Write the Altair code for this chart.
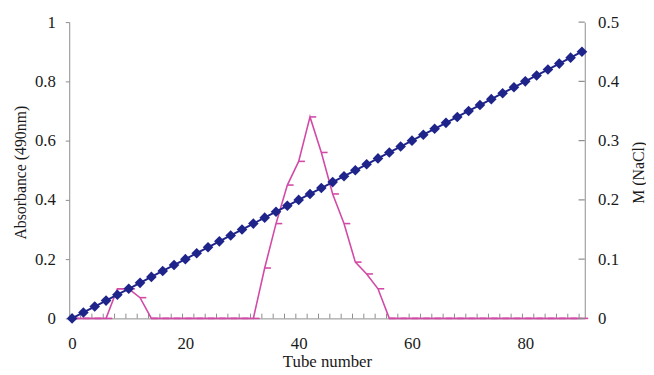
import altair as alt
import pandas as pd

# Tube numbers (every 2nd tube)
tubes = [0, 2, 4, 6, 8, 10, 12, 14, 16, 18, 20, 22, 24, 26, 28, 30, 32, 34, 36, 38,
         40, 42, 44, 46, 48, 50, 52, 54, 56, 58, 60, 62, 64, 66, 68, 70, 72, 74, 76, 78,
         80, 82, 84, 86, 88, 90]
# Absorbance at 490 nm (left axis)
absorbance = [0, 0, 0, 0, 0.10, 0.10, 0.07, 0, 0, 0, 0, 0, 0, 0, 0, 0, 0, 0.17, 0.32, 0.45,
              0.53, 0.68, 0.56, 0.42, 0.32, 0.19, 0.15, 0.10, 0, 0, 0, 0, 0, 0, 0, 0, 0, 0, 0, 0,
              0, 0, 0, 0, 0, 0]
# NaCl molarity gradient (right axis)
nacl = [0.00, 0.01, 0.02, 0.03, 0.04, 0.05, 0.06, 0.07, 0.08, 0.09, 0.10, 0.11, 0.12, 0.13,
        0.14, 0.15, 0.16, 0.17, 0.18, 0.19, 0.20, 0.21, 0.22, 0.23, 0.24, 0.25, 0.26, 0.27,
        0.28, 0.29, 0.30, 0.31, 0.32, 0.33, 0.34, 0.35, 0.36, 0.37, 0.38, 0.39, 0.40, 0.41,
        0.42, 0.43, 0.44, 0.45]
# x-axis tick marks (category boundaries) and label values
x_tick_marks = [1.5 + 2 * i for i in range(45)]
x_label_values = [0, 20, 40, 60, 80]
left_ticks = [0, 0.2, 0.4, 0.6, 0.8, 1]
right_ticks = [0, 0.1, 0.2, 0.3, 0.4, 0.5]

df = pd.DataFrame({"tube": tubes, "abs": absorbance, "nacl": nacl})
xt = pd.DataFrame({"t": x_tick_marks, "y0": [0] * len(x_tick_marks),
                   "y1": [0.016] * len(x_tick_marks)})
rt = pd.DataFrame({"v": right_ticks, "x0": [90.5] * len(right_ticks),
                   "x1": [89.4] * len(right_ticks)})

FONT = "Liberation Serif"
AXIS_COLOR = "#8c8c8c"
PINK = "#d24aa6"
BLUE = "#1f248a"
TXT = "#1a1a1a"

xscale = alt.Scale(domain=[-0.5, 90.5], nice=False, zero=False)
xaxis = alt.Axis(values=x_label_values, title="Tube number", tickSize=0, grid=False,
                 labelFont=FONT, labelFontSize=17, labelColor=TXT, labelPadding=17,
                 titleFont=FONT, titleFontSize=17, titleFontWeight="normal",
                 titleColor=TXT, titlePadding=3, domainColor=AXIS_COLOR)
X = alt.X("tube:Q", scale=xscale, axis=xaxis)

lscale = alt.Scale(domain=[0, 1], nice=False)
laxis = alt.Axis(values=left_ticks, format="~g", title="Absorbance (490nm)", grid=False,
                 tickSize=4, tickColor=AXIS_COLOR, domainColor=AXIS_COLOR,
                 labelFont=FONT, labelFontSize=17, labelColor=TXT, labelPadding=10,
                 titleFont=FONT, titleFontSize=16, titleFontWeight="normal",
                 titleColor=TXT, titleX=-41, titleY=152, titleBaseline="bottom",
                 titleAngle=270)

rscale = alt.Scale(domain=[0, 0.5], nice=False)
raxis = alt.Axis(values=right_ticks, format="~g", title="M (NaCl)", grid=False,
                 orient="right", tickSize=0, domainColor=AXIS_COLOR,
                 labelFont=FONT, labelFontSize=17, labelColor=TXT, labelPadding=13,
                 titleFont=FONT, titleFontSize=16, titleFontWeight="normal",
                 titleColor=TXT, titleX=46, titleY=152, titleBaseline="top",
                 titleAngle=270)

base = alt.Chart(df)

pink_line = base.mark_line(color=PINK, strokeWidth=1.6).encode(
    x=X, y=alt.Y("abs:Q", scale=lscale, axis=laxis))
pink_marks = base.mark_point(shape="M0,0H1", size=160, filled=False, stroke=PINK,
                             strokeWidth=1.6, opacity=1).encode(
    x=X, y=alt.Y("abs:Q", scale=lscale, axis=laxis))
x_ticks = alt.Chart(xt).mark_rule(color=AXIS_COLOR, strokeWidth=1).encode(
    x=alt.X("t:Q", scale=xscale, axis=xaxis),
    y=alt.Y("y0:Q", scale=lscale, axis=laxis), y2="y1:Q")

blue_line = base.mark_line(color=BLUE, strokeWidth=2).encode(
    x=X, y=alt.Y("nacl:Q", scale=rscale, axis=raxis))
blue_pts = base.mark_point(shape="diamond", size=115, filled=True, color=BLUE,
                           opacity=1).encode(
    x=X, y=alt.Y("nacl:Q", scale=rscale, axis=raxis))
r_ticks = alt.Chart(rt).mark_rule(color=AXIS_COLOR, strokeWidth=1.2).encode(
    x=alt.X("x0:Q", scale=xscale, axis=xaxis), x2="x1:Q",
    y=alt.Y("v:Q", scale=rscale, axis=raxis))

left_layer = alt.layer(x_ticks, pink_line, pink_marks)
right_layer = alt.layer(blue_line, blue_pts, r_ticks)

chart = alt.layer(left_layer, right_layer).resolve_scale(y="independent").properties(
    width=522, height=300,
    autosize=alt.AutoSizeParams(type="none"),
    padding={"left": 62, "top": 12, "right": 62, "bottom": 53},
    background="white",
).configure_view(stroke=None)

chart.save("out.html", embed_options={"renderer": "svg", "actions": False})
